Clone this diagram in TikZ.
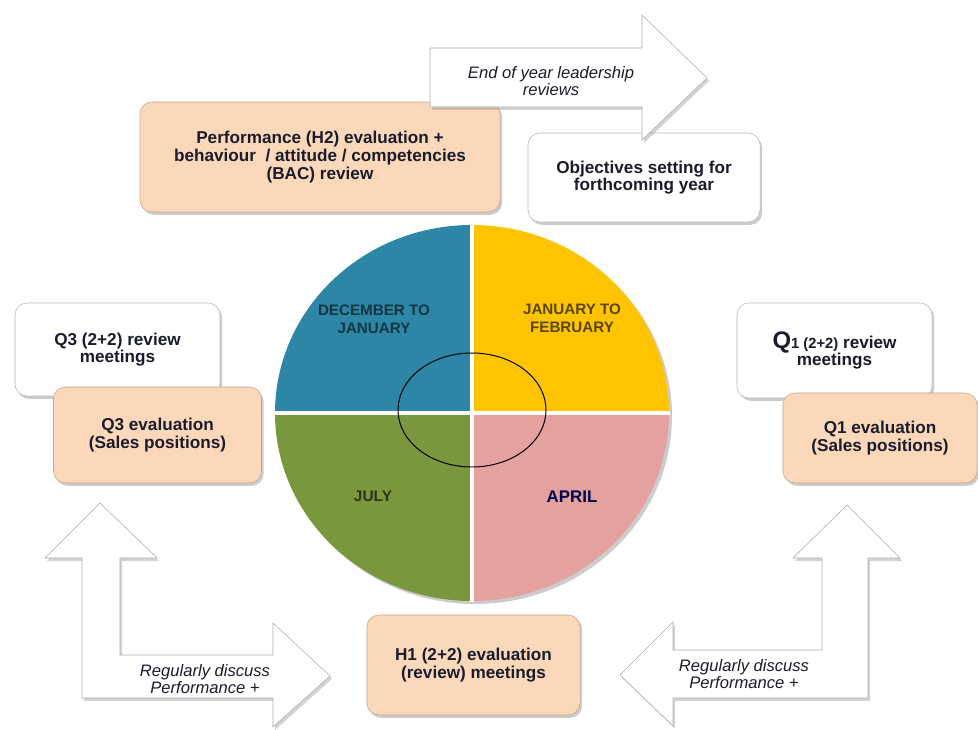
\documentclass[tikz,border=0pt]{standalone}
\usepackage{fontspec}
\setmainfont{Liberation Sans}
\usetikzlibrary{shadows}
\definecolor{peach}{RGB}{252,216,186}
\definecolor{peachline}{RGB}{196,166,138}
\definecolor{decblue}{RGB}{46,134,166}
\definecolor{jangold}{RGB}{255,196,0}
\definecolor{julgreen}{RGB}{121,151,61}
\definecolor{aprpink}{RGB}{229,160,160}
\definecolor{inktext}{RGB}{26,28,44}
\begin{document}
\begin{tikzpicture}[x=0.025cm, y=0.025cm]
\tikzstyle{every node}+=[inner sep=0pt, text=inktext]
\tikzstyle{pbox}=[draw=peachline, fill=peach, rounded corners=0.3cm, align=center, font=\bfseries\fontsize{12.2}{12.6}\selectfont, drop shadow={opacity=0.4, shadow xshift=1.5pt, shadow yshift=-2pt}]
\tikzstyle{wbox}=[pbox, draw=gray!55, fill=white]
\tikzstyle{bigarrow}=[draw=gray!65, fill=white, line join=miter, drop shadow={opacity=0.35, shadow xshift=1.5pt, shadow yshift=-2pt}]
\tikzstyle{atext}=[align=center, font=\itshape\fontsize{11.8}{12.4}\selectfont]
\tikzstyle{qtext}=[align=center, font=\bfseries\fontsize{10.8}{12.8}\selectfont]
\useasboundingbox (0,0) rectangle (978,-729);
\draw (644,-177.5) node [wbox, minimum width=5.8cm, minimum height=2.225cm] (obj) {Objectives setting for\\forthcoming year};
\draw (320,-157) node [pbox, minimum width=9cm, minimum height=2.75cm] (h2) {Performance (H2) evaluation +\\behaviour~ / attitude / competencies\\(BAC) review};
\draw [bigarrow] (430,-48) -- (642,-48) -- (642,-15) -- (707,-78) -- (642,-140) -- (642,-107) -- (430,-107) -- cycle;
\draw (551,-81) node [atext] (eoy) {End of year leadership\\reviews};
\fill [black, opacity=0.2] (475,-416) ellipse (197 and 188);
\fill [decblue] (472,-413) -- (275,-413) arc (180:90:197 and 188) -- cycle;
\fill [jangold] (472,-413) -- (472,-225) arc (90:0:197 and 188) -- cycle;
\fill [aprpink] (472,-413) -- (669,-413) arc (0:-90:197 and 188) -- cycle;
\fill [julgreen] (472,-413) -- (472,-601) arc (270:180:197 and 188) -- cycle;
\draw [white, line width=2.2pt] (274,-413) -- (670,-413);
\draw [white, line width=2.2pt] (472,-224) -- (472,-602);
\draw [black, line width=0.7pt] (472,-410) ellipse (74 and 57);
\draw (374,-319) node [qtext, text=decblue!40!black] (dec) {DECEMBER TO\\JANUARY};
\draw (572,-318) node [qtext, text=jangold!35!black] (jan) {JANUARY TO\\FEBRUARY};
\draw (373,-496) node [qtext, font=\bfseries\fontsize{11}{12}\selectfont, text=julgreen!35!black] (jul) {JULY};
\draw (572,-497) node [qtext, font=\bfseries\fontsize{12}{13}\selectfont, text=blue!30!black] (apr) {APRIL};
\draw (117.5,-349.5) node [wbox, minimum width=5.125cm, minimum height=2.325cm] (q3rev) {Q3 (2+2) review\\meetings};
\draw (157.5,-435) node [pbox, minimum width=5.2cm, minimum height=2.4cm] (q3eval) {Q3 evaluation\\(Sales positions)};
\draw (834.5,-350.5) node [wbox, minimum width=4.875cm, minimum height=2.375cm] (q1rev) {{\fontsize{17}{17}\selectfont Q}{\fontsize{10.5}{12}\selectfont 1 (2+2)} review\\meetings};
\draw (880,-438) node [pbox, minimum width=4.85cm, minimum height=2.25cm] (q1eval) {Q1 evaluation\\(Sales positions)};
\draw (473.5,-665) node [pbox, minimum width=5.325cm, minimum height=2.5cm] (h1) {H1 (2+2) evaluation\\(review) meetings};
\draw [bigarrow] (100,-503) -- (157,-558) -- (120,-558) -- (120,-655) -- (273,-655) -- (273,-623) -- (330,-676) -- (273,-727) -- (273,-698) -- (82,-698) -- (82,-558) -- (45,-558) -- cycle;
\draw (205,-679) node [atext] (reg1) {Regularly discuss\\Performance +};
\draw [bigarrow] (847,-505) -- (900,-558) -- (868,-558) -- (868,-698) -- (673,-698) -- (673,-726) -- (620,-675) -- (673,-622) -- (673,-650) -- (822,-650) -- (822,-558) -- (793,-558) -- cycle;
\draw (744,-674) node [atext] (reg2) {Regularly discuss\\Performance +};
\end{tikzpicture}
\end{document}
